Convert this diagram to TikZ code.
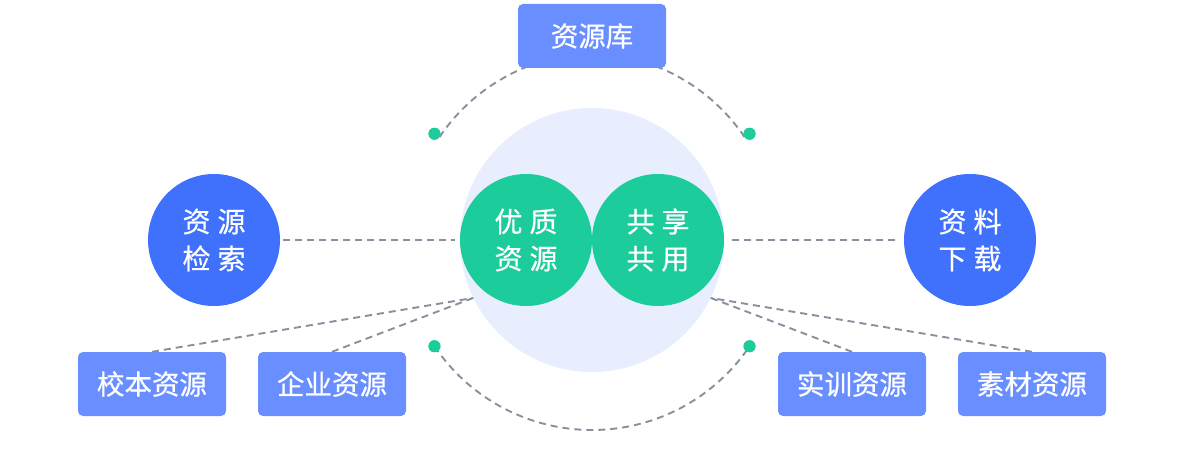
\documentclass[tikz,border=0pt]{standalone}
\usepackage{xcolor}
\usepackage{fontspec}
\setmainfont{Noto Sans CJK SC}
\newfontfamily\medfont{Noto Sans CJK SC}[FakeBold=0.6]
\usepackage{tikz}
\definecolor{myboxblue}{RGB}{104,142,255}
\definecolor{myblue}{RGB}{64,113,252}
\definecolor{mygreen}{RGB}{28,204,154}
\definecolor{mylight}{RGB}{232,238,253}
\definecolor{mygray}{RGB}{138,143,156}

\begin{document}
\begin{tikzpicture}[x=1pt, y=1pt,
    box/.style={fill=myboxblue, rounded corners=5pt, minimum width=148pt,
      minimum height=64pt, inner sep=0pt, text=white,
      font=\medfont\fontsize{27.5}{30}\selectfont},
    ball/.style={circle, minimum size=132pt, inner sep=0pt, text=white,
      align=center, font=\medfont\fontsize{28}{37}\selectfont},
    dot/.style={circle, fill=mygreen, minimum size=12pt, inner sep=0pt},
    dashline/.style={mygray, line width=1.9pt, dash pattern=on 7pt off 5pt}]
  \useasboundingbox (0,0) rectangle (1184,472);
  % centre
  \node[circle, fill=mylight, minimum size=264pt, inner sep=0pt] (bigc) at (592,232) {};
  % arcs and dots
  \node[dot] (dtl) at ([shift={(146:190pt)}]bigc.center) {};
  \node[dot] (dtr) at ([shift={(34:190pt)}]bigc.center) {};
  \node[dot] (dbl) at ([shift={(214:190pt)}]bigc.center) {};
  \node[dot] (dbr) at ([shift={(326:190pt)}]bigc.center) {};
  \draw[dashline] (dtl.center) ++(146:-6pt) arc[start angle=146, end angle=112, radius=190pt];
  \draw[dashline] (dtr.center) ++(34:-6pt) arc[start angle=34, end angle=68, radius=190pt];
  \draw[dashline] (dbl.center) arc[start angle=214, end angle=326, radius=190pt];
  \node[dot] at (dtl) {};
  \node[dot] at (dtr) {};
  \node[dot] at (dbl) {};
  \node[dot] at (dbr) {};
  % top box
  \node[box] (lib) at (592,436) {资源库};
  % circles
  \node[ball, fill=mygreen] (good) at (526,232) {优\hspace{7pt}质\\资\hspace{7pt}源};
  \node[ball, fill=mygreen] (share) at (658,232) {共\hspace{7pt}享\\共\hspace{7pt}用};
  \node[ball, fill=myblue] (search) at (214,232) {资\hspace{7pt}源\\检\hspace{7pt}索};
  \node[ball, fill=myblue] (load) at (970,232) {资\hspace{7pt}料\\下\hspace{7pt}载};
  \draw[dashline, shorten <=3pt, shorten >=5pt] (search) -- (good);
  \draw[dashline, shorten <=8pt, shorten >=4pt] (share) -- (load);
  % bottom boxes
  \node[box] (school) at (152,88) {校本资源};
  \node[box] (firm) at (332,88) {企业资源};
  \node[box] (train) at (852,88) {实训资源};
  \node[box] (stuff) at (1032,88) {素材资源};
  \draw[dashline] (school.north) -- (bigc.206);
  \draw[dashline] (firm.north) -- (bigc.206);
  \draw[dashline] (train.north) -- (bigc.334);
  \draw[dashline] (stuff.north) -- (bigc.334);
\end{tikzpicture}
\end{document}
